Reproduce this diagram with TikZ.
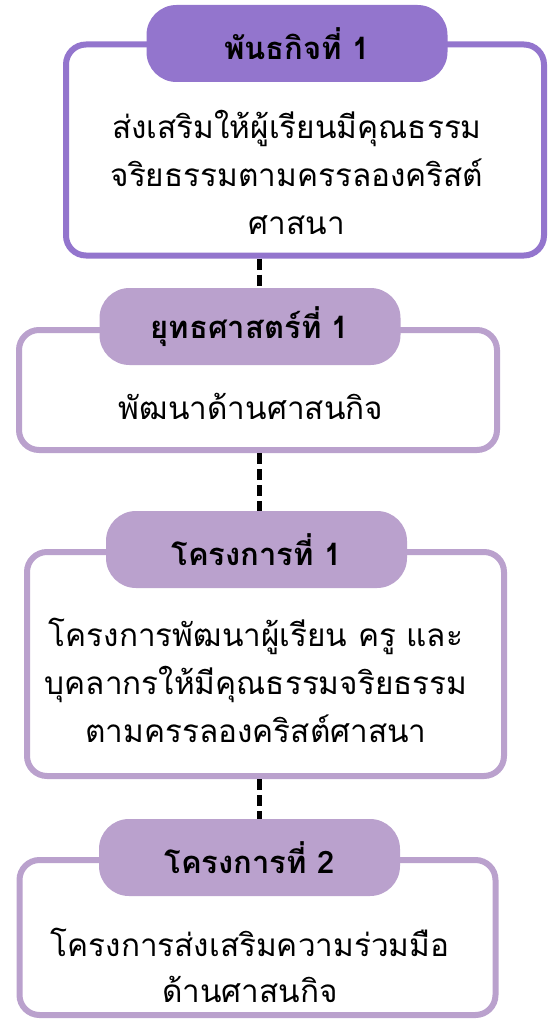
\documentclass[tikz,border=0pt]{standalone}
\usepackage{fontspec}
\newfontfamily\thaifont[Script=Thai]{Loma}
\usetikzlibrary{positioning}
\definecolor{missionpurple}{RGB}{147,117,205}
\definecolor{planlilac}{RGB}{186,161,205}
\tikzset{
    framebox/.style={
        rectangle,
        draw=planlilac,
        line width=6pt,
        rounded corners=20pt,
        fill=white
    },
    titlepill/.style={
        rectangle,
        fill=planlilac,
        rounded corners=30pt,
        minimum width=301pt,
        minimum height=77pt,
        font=\thaifont\bfseries\fontsize{31}{36}\selectfont
    },
    bodytext/.style={
        align=center,
        font=\thaifont\fontsize{31.5}{48}\selectfont
    },
    link/.style={
        draw=black,
        line width=4.5pt,
        dash pattern=on 11pt off 5pt
    }
}

\begin{document}
\begin{tikzpicture}[x=1pt, y=-1pt]
\useasboundingbox (0,0) rectangle (553,1024);

% Mission (top)
\node[framebox, draw=missionpurple, minimum width=478pt, minimum height=211pt] (box1) at (305,150) {};
\node[titlepill, fill=missionpurple] (title1) at (297,43.5) {พันธกิจที่ 1};
\node[bodytext] (body1) at (297,172) {ส่งเสริมให้ผู้เรียนมีคุณธรรม\\จริยธรรมตามครรลองคริสต์\\ศาสนา};

% Strategy
\node[framebox, minimum width=478pt, minimum height=120pt] (box2) at (258,390) {};
\node[titlepill] (title2) at (250,326.5) {ยุทธศาสตร์ที่ 1};
\node[bodytext] (body2) at (251,406) {พัฒนาด้านศาสนกิจ};

% Project 1
\node[framebox, minimum width=477pt, minimum height=224pt] (box3) at (265.5,664) {};
\node[titlepill] (title3) at (256.5,549.5) {โครงการที่ 1};
\node[bodytext] (body3) at (256,680) {โครงการพัฒนาผู้เรียน ครู และ\\บุคลากรให้มีคุณธรรมจริยธรรม\\ตามครรลองคริสต์ศาสนา};

% Project 2
\node[framebox, minimum width=476pt, minimum height=155pt] (box4) at (257.5,937.5) {};
\node[titlepill] (title4) at (249.5,857.5) {โครงการที่ 2};
\node[bodytext, font=\thaifont\fontsize{31.5}{46}\selectfont] (body4) at (250,965) {โครงการส่งเสริมความร่วมมือ\\ด้านศาสนกิจ};

% Dashed links
\coordinate (lane) at (259.5,0);
\draw[link] (box1.south -| lane) -- (title2.north -| lane);
\draw[link] (box2.south -| lane) -- (title3.north -| lane);
\draw[link] (box3.south -| lane) -- (title4.north -| lane);

\end{tikzpicture}
\end{document}
